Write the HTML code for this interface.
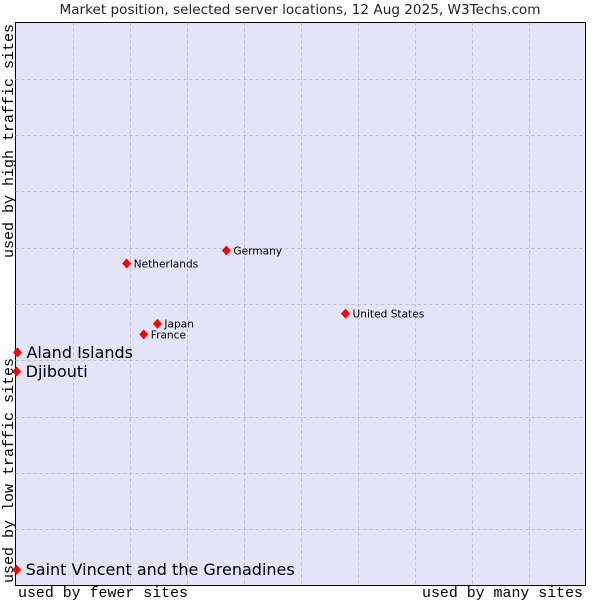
<!DOCTYPE html>
<html><head><meta charset="utf-8"><style>
body{margin:0;background:#fff;width:600px;height:600px;overflow:hidden}
svg{display:block}
</style></head><body>
<svg id="chart" width="600" height="600">
<text x="300" y="14" text-anchor="middle" font-family="DejaVu Sans, sans-serif" font-size="13" textLength="481" lengthAdjust="spacingAndGlyphs" fill="#222">Market position, selected server locations, 12 Aug 2025, W3Techs.com</text>
<rect x="15.5" y="22.5" width="570" height="563" fill="#e3e4f8" stroke="#000" stroke-width="1"/>
<g id="grid"></g>
<g id="points"></g>
<text x="18" y="597" font-family="Liberation Mono, monospace" font-size="15" textLength="170" lengthAdjust="spacingAndGlyphs" fill="#000">used by fewer sites</text>
<text x="583" y="597" text-anchor="end" font-family="Liberation Mono, monospace" font-size="15" textLength="161" lengthAdjust="spacingAndGlyphs" fill="#000">used by many sites</text>
<text transform="translate(13,583) rotate(-90)" font-family="Liberation Mono, monospace" font-size="15" fill="#000">used by low traffic sites</text>
<text transform="translate(13,258) rotate(-90)" font-family="Liberation Mono, monospace" font-size="15" fill="#000">used by high traffic sites</text>
</svg>
<script>
const names=["Netherlands","Germany","United States","Japan","France","Aland Islands","Djibouti","Saint Vincent and the Grenadines"];
const xValues=[19.5,37.0,57.9,24.9,22.5,0.35,0.2,0.2];
const yValues=[57.2,59.5,48.3,46.5,44.6,41.4,38.0,2.8];
const bigLabel=[false,false,false,false,false,true,true,true];
const X0=15.5,X1=585.5,Y0=585.5,Y1=22.5;
function sx(v){return X0+(X1-X0)*v/100;}
function sy(v){return Y0-(Y0-Y1)*v/100;}
const NS="http://www.w3.org/2000/svg";
const grid=document.getElementById('grid');
for(let i=1;i<10;i++){
  const v=document.createElementNS(NS,'line');
  const x=Math.round(sx(i*10))+0.5;
  v.setAttribute('x1',x);v.setAttribute('x2',x);v.setAttribute('y1',Y1);v.setAttribute('y2',Y0);
  v.setAttribute('stroke','#bcbcc4');v.setAttribute('stroke-dasharray','3,3');
  
  
  grid.appendChild(v);
  const h=document.createElementNS(NS,'line');
  const y=Math.round(sy(i*10))+0.5;
  h.setAttribute('y1',y);h.setAttribute('y2',y);h.setAttribute('x1',X0);h.setAttribute('x2',X1);
  h.setAttribute('stroke','#bcbcc4');h.setAttribute('stroke-dasharray','3,3');
  
  
  grid.appendChild(h);
}
const pts=document.getElementById('points');
names.forEach((n,i)=>{
  const x=sx(xValues[i]),y=sy(yValues[i]);
  const p=document.createElementNS(NS,'polygon');
  p.setAttribute('points',`${x},${y-5} ${x+4.5},${y} ${x},${y+5} ${x-4.5},${y}`);
  p.setAttribute('fill','#f00');
  
  
  pts.appendChild(p);
  const t=document.createElementNS(NS,'text');
  t.setAttribute('x',x+(bigLabel[i]?9:7));
  t.setAttribute('y',y+(bigLabel[i]?5.5:4));
  t.setAttribute('font-family','DejaVu Sans, sans-serif');
  t.setAttribute('font-size',bigLabel[i]?'16':'10.6');
  t.setAttribute('fill','#000');
  t.textContent=n;
  
  
  pts.appendChild(t);
});
</script>
</body></html>
